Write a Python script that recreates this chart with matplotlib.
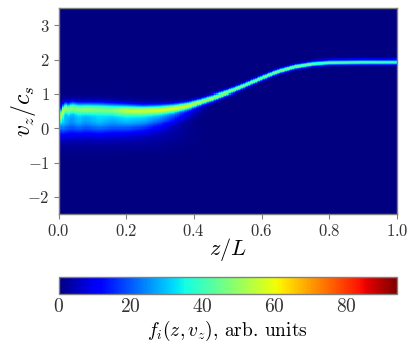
import numpy as np
import matplotlib
matplotlib.use("Agg")
import matplotlib.pyplot as plt

plt.rcParams['font.family'] = ['cmr10', 'DejaVu Sans']
plt.rcParams['mathtext.fontset'] = 'cm'
plt.rcParams['axes.formatter.use_mathtext'] = True

# values, per z/L knot
z_knots = [0.0, 0.006, 0.012, 0.02, 0.03, 0.04, 0.06, 0.08, 0.12, 0.16, 0.2, 0.25, 0.3, 0.34, 0.38, 0.42, 0.46, 0.5, 0.55, 0.6, 0.65, 0.7, 0.75, 0.8, 0.9, 1.0]
ridge_v = [0.10, 0.32, 0.50, 0.60, 0.55, 0.60, 0.57, 0.57, 0.57, 0.55, 0.53, 0.52, 0.54, 0.58, 0.65, 0.77, 0.90, 1.04, 1.24, 1.46, 1.66, 1.80, 1.88, 1.92, 1.93, 1.93]
ridge_amp = [16, 28, 34, 38, 33, 38, 33, 36, 32, 33, 38, 39, 44, 48, 52, 50, 50, 48, 46, 46, 47, 47, 44, 41, 40, 39]
ridge_sig = [0.16, 0.13, 0.12, 0.11, 0.12, 0.12, 0.12, 0.12, 0.12, 0.12, 0.11, 0.10, 0.095, 0.09, 0.08, 0.07, 0.065, 0.06, 0.056, 0.054, 0.052, 0.05, 0.05, 0.05, 0.05, 0.05]
lobe_v = [0.10, 0.20, 0.24, 0.24, 0.24, 0.24, 0.25, 0.25, 0.25, 0.25, 0.26, 0.28, 0.32, 0.38, 0.46, 0.60, 0.80, 1.00, 1.25, 1.46, 1.64, 1.79, 1.88, 1.92, 1.93, 1.93]
lobe_amp = [13, 22, 27, 25, 22, 21, 25, 22, 26, 23, 26, 25, 21, 16, 9, 4, 1, 0, 0, 0, 0, 0, 0, 0, 0, 0]
lobe_sig = [0.25, 0.26, 0.26, 0.26, 0.26, 0.26, 0.26, 0.26, 0.26, 0.25, 0.24, 0.22, 0.20, 0.17, 0.15, 0.13, 0.10, 0.1, 0.1, 0.1, 0.1, 0.1, 0.1, 0.1, 0.1, 0.1]
base_amp = [4, 5, 5, 5, 5, 5, 5, 5, 5, 5, 5, 5, 4, 3, 1.5, 0.5, 0, 0, 0, 0, 0, 0, 0, 0, 0, 0]
base_v = 0.0
base_sig = 0.38

v_min, v_max = -2.5, 3.5
vmax_color = 94
x_ticks = [0.0, 0.2, 0.4, 0.6, 0.8, 1.0]
y_ticks = [-2, -1, 0, 1, 2, 3]
cb_ticks = [0, 20, 40, 60, 80]

z_edges = np.linspace(0, 1, 201)
v_edges = np.linspace(v_min, v_max, 201)
zc = 0.5 * (z_edges[:-1] + z_edges[1:])
vc = 0.5 * (v_edges[:-1] + v_edges[1:])

def col(a):
    return np.interp(zc, z_knots, a)[None, :]

V = vc[:, None]
F = (col(ridge_amp) * np.exp(-0.5 * ((V - col(ridge_v)) / col(ridge_sig)) ** 2)
     + col(lobe_amp) * np.exp(-0.5 * ((V - col(lobe_v)) / col(lobe_sig)) ** 2)
     + col(base_amp) * np.exp(-0.5 * ((V - base_v) / base_sig) ** 2))

W, H = 415, 356
fig = plt.figure(figsize=(W / 100, H / 100), dpi=100)
ax = fig.add_axes([58.5 / W, 1 - 214 / H, 338.5 / W, 206 / H])
mesh = ax.pcolormesh(z_edges, v_edges, F, cmap='jet', vmin=0, vmax=vmax_color, shading='flat', rasterized=True)
ax.set_xlim(0, 1)
ax.set_ylim(v_min, v_max)
ax.set_xticks(x_ticks)
ax.set_xticklabels([f'${t:.1f}$' for t in x_ticks])
ax.set_yticks(y_ticks)
ax.set_yticklabels([f'${t}$' for t in y_ticks])
ax.tick_params(labelsize=12, color='#808080', labelcolor='#333333', length=3.5, width=0.8, pad=3)
ax.set_xlabel(r'$z/L$', fontsize=16, labelpad=-2)
ax.set_ylabel(r'$v_z/c_s$', fontsize=17, labelpad=-8)
for s in ax.spines.values():
    s.set_color('#808080')
    s.set_linewidth(1.0)

cax = fig.add_axes([58.5 / W, 1 - 294 / H, 338.5 / W, 17 / H])
cb = fig.colorbar(mesh, cax=cax, orientation='horizontal')
cb.set_ticks(cb_ticks)
cb.set_ticklabels([f'${t}$' for t in cb_ticks])
cax.tick_params(labelsize=14, color='#808080', labelcolor='#333333', length=0, pad=3)
cb.outline.set_edgecolor('#808080')
cb.outline.set_linewidth(1.0)
cb.set_label(r'$f_i(z, v_z)$, arb. units', fontsize=14, labelpad=2)

fig.savefig('out.png', dpi=100)
